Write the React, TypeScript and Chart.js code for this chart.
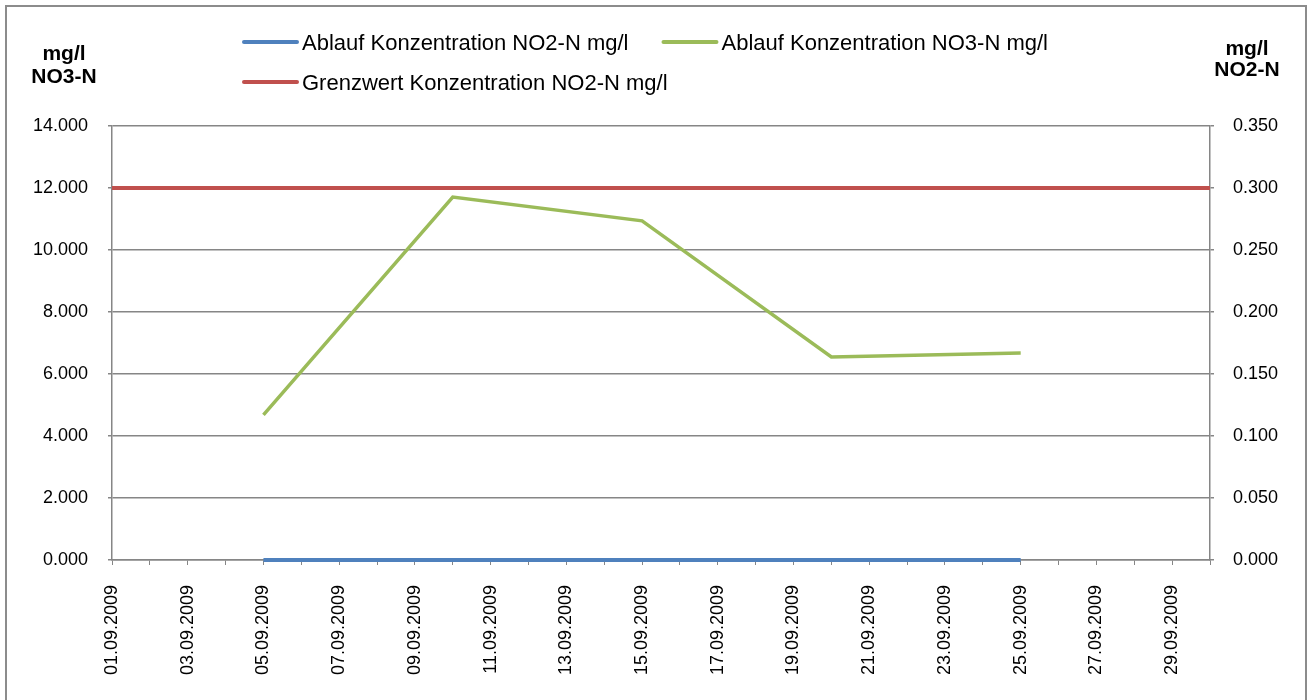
import React, { useEffect, useRef } from "react";
import { Chart, registerables } from "chart.js";

Chart.register(...registerables);

// ---- data ----
const sampleDates = ["05.09.2009", "10.09.2009", "15.09.2009", "20.09.2009", "25.09.2009"];
const no2Values = [0, 0, 0, 0, 0];
const no3Values = [4.68, 11.71, 10.94, 6.55, 6.68];
const limitDates = ["01.09.2009", "30.09.2009"];
const limitValues = [0.3, 0.3];

const seriesLabels = [
  "Ablauf Konzentration NO2-N mg/l",
  "Ablauf Konzentration NO3-N mg/l",
  "Grenzwert Konzentration NO2-N mg/l",
];
const seriesColors = ["#4F81BD", "#9BBB59", "#C0504D"];

const leftTitle = ["mg/l", "NO3-N"];
const rightTitle = ["mg/l", "NO2-N"];

const axisStartDay = 0; // 01.09.2009
const axisEndDay = 29; // 30.09.2009
const leftMax = 14;
const leftStep = 2;
const rightMax = 0.35;
const rightStep = 0.05;

const dayIndex = (s: string) => parseInt(s.slice(0, 2), 10) - 1;
const dayLabel = (i: number) => String(i + 1).padStart(2, "0") + ".09.2009";

const FONT = '"Liberation Sans", Arial, sans-serif';
const GRID = "#868686";

const decorPlugin = {
  id: "decor",
  afterDraw(chart: any) {
    const ctx = chart.ctx as CanvasRenderingContext2D;
    ctx.save();
    // outer frame
    ctx.strokeStyle = "#8c8c8c";
    ctx.lineWidth = 2;
    ctx.strokeRect(6, 6, 1300, 720);

    // axis titles
    ctx.fillStyle = "#000";
    ctx.font = `bold 21px ${FONT}`;
    ctx.textAlign = "center";
    ctx.textBaseline = "alphabetic";
    ctx.fillText(leftTitle[0], 64, 60);
    ctx.fillText(leftTitle[1], 64, 83);
    ctx.fillText(rightTitle[0], 1247, 55);
    ctx.fillText(rightTitle[1], 1247, 76);

    // legend
    ctx.font = `22px ${FONT}`;
    ctx.textAlign = "left";
    const ds = chart.data.datasets;
    const x0 = 244;
    const lineLen = 53;
    const gap = 5;
    const itemGap = 35;
    const rows = [
      { y: 42, items: [0, 1] },
      { y: 82, items: [2] },
    ];
    rows.forEach((row) => {
      let x = x0;
      row.items.forEach((i) => {
        const d = ds[i];
        ctx.strokeStyle = d.borderColor;
        ctx.lineWidth = 4;
        ctx.lineCap = "round";
        ctx.beginPath();
        ctx.moveTo(x, row.y);
        ctx.lineTo(x + lineLen, row.y);
        ctx.stroke();
        ctx.fillStyle = "#000";
        ctx.fillText(d.label, x + lineLen + gap, row.y + 8);
        x += lineLen + gap + ctx.measureText(d.label).width + itemGap;
      });
    });
    ctx.restore();
  },
};

export default function App() {
  const ref = useRef<HTMLCanvasElement | null>(null);

  useEffect(() => {
    document.body.style.margin = "0";
    if (!ref.current) return;
    const chart = new Chart(ref.current, {
      type: "line",
      data: {
        datasets: [
          {
            label: seriesLabels[0],
            data: sampleDates.map((d, i) => ({ x: dayIndex(d), y: no2Values[i] })),
            borderColor: seriesColors[0],
            backgroundColor: seriesColors[0],
            borderWidth: 4,
            pointRadius: 0,
            yAxisID: "y1",
            clip: 10,
          },
          {
            label: seriesLabels[1],
            data: sampleDates.map((d, i) => ({ x: dayIndex(d), y: no3Values[i] })),
            borderColor: seriesColors[1],
            backgroundColor: seriesColors[1],
            borderWidth: 3.5,
            pointRadius: 0,
            yAxisID: "y",
          },
          {
            label: seriesLabels[2],
            data: limitDates.map((d, i) => ({ x: dayIndex(d), y: limitValues[i] })),
            borderColor: seriesColors[2],
            backgroundColor: seriesColors[2],
            borderWidth: 4,
            pointRadius: 0,
            yAxisID: "y1",
          },
        ],
      },
      options: {
        animation: false,
        responsive: true,
        maintainAspectRatio: false,
        layout: { padding: { top: 126, left: 0, right: 0, bottom: 0 } },
        plugins: {
          legend: { display: false },
          tooltip: { enabled: false },
        },
        scales: {
          x: {
            type: "linear",
            min: axisStartDay,
            max: axisEndDay,
            afterFit: (s: any) => {
              s.height = 140;
            },
            ticks: {
              stepSize: 1,
              autoSkip: false,
              minRotation: 90,
              maxRotation: 90,
              padding: 20,
              color: "#000",
              font: { family: FONT, size: 18 },
              callback: (v: any) => (Number(v) % 2 === 0 ? dayLabel(Number(v)) : ""),
            },
            grid: { drawOnChartArea: false, drawTicks: true, tickLength: 5, color: GRID, lineWidth: 1 },
            border: { display: true, color: GRID, width: 1.5 },
          },
          y: {
            position: "left",
            min: 0,
            max: leftMax,
            afterFit: (s: any) => {
              s.width = 112;
            },
            ticks: {
              stepSize: leftStep,
              padding: 20,
              color: "#000",
              font: { family: FONT, size: 18 },
              callback: (v: any) => Number(v).toFixed(3),
            },
            grid: { drawOnChartArea: true, drawTicks: true, tickLength: 4, color: GRID, lineWidth: 1.5 },
            border: { display: true, color: GRID, width: 1.5 },
          },
          y1: {
            position: "right",
            min: 0,
            max: rightMax,
            afterFit: (s: any) => {
              s.width = 104;
            },
            ticks: {
              stepSize: rightStep,
              padding: 19,
              color: "#000",
              font: { family: FONT, size: 18 },
              callback: (v: any) => Number(v).toFixed(3),
            },
            grid: { drawOnChartArea: false, drawTicks: true, tickLength: 4, color: GRID, lineWidth: 1.5 },
            border: { display: true, color: GRID, width: 1.5 },
          },
        },
      },
      plugins: [decorPlugin],
    } as any);
    return () => chart.destroy();
  }, []);

  return (
    <div style={{ width: 1314, height: 700, position: "relative" }}>
      <canvas ref={ref} />
    </div>
  );
}
